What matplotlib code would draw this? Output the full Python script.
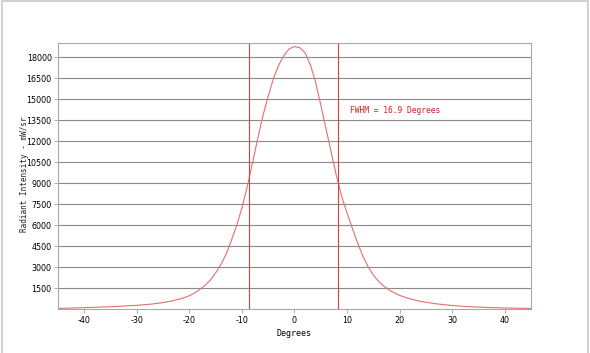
import matplotlib.pyplot as plt
from matplotlib.patches import Rectangle

plt.rcParams['axes.unicode_minus'] = False

# beam profile
angles = [-45, -40, -36, -33, -30, -27, -25, -24, -23, -22, -21, -20, -19, -18, -17, -16,
          -15, -14, -13, -12, -11, -10, -9, -8, -7, -6, -5, -4, -3, -2, -1, 0,
          1, 2, 3, 4, 5, 6, 7, 8, 9, 10, 11, 12, 13, 14, 15, 16,
          17, 18, 19, 20, 21, 22, 23, 24, 25, 27, 30, 33, 36, 40, 45]
intensity = [60, 115, 170, 220, 285, 380, 480, 550, 630, 720, 830, 970, 1170, 1420, 1720, 2100,
             2600, 3200, 3950, 4930, 6000, 7250, 8750, 10450, 12200, 13850, 15230, 16500, 17450, 18150, 18620, 18780,
             18700, 18350, 17500, 16250, 14600, 12900, 11200, 9500, 8050, 6880, 5790, 4750, 3800, 3050, 2450, 2000,
             1650, 1380, 1170, 1000, 860, 750, 650, 570, 500, 390, 270, 190, 140, 95, 60]
fwhm_left = -8.6
fwhm_right = 8.3
fwhm_text = 'FWHM = 16.9 Degrees'
yticks = [1500, 3000, 4500, 6000, 7500, 9000, 10500, 12000, 13500, 15000, 16500, 18000]
xticks = [-40, -30, -20, -10, 0, 10, 20, 30, 40]

fig = plt.figure(figsize=(5.9, 3.53), dpi=100)
fig.patches.append(Rectangle((0.0034, -0.01), 0.9932, 1.007, transform=fig.transFigure,
                             fill=False, edgecolor='#c8c8c8', linewidth=1.2))
ax = fig.add_axes([0.0983, 0.1238, 0.8017, 0.753])

ax.plot(angles, intensity, color='#e07070', linewidth=0.8)
ax.axvline(fwhm_left, color='#d84040', linewidth=0.8)
ax.axvline(fwhm_right, color='#d84040', linewidth=0.8)
ax.text(10.6, 14236, fwhm_text, color='#cc2020', fontsize=5.7, family='DejaVu Sans Mono',
        va='center', ha='left')

ax.set_xlim(-45, 45)
ax.set_ylim(0, 19000)
ax.set_xticks(xticks)
ax.set_yticks(yticks)
ax.yaxis.grid(True, color='#8a8a8a', linewidth=0.8)
ax.set_axisbelow(True)
ax.tick_params(labelsize=5.8, length=3, width=0.6, color='#a0a0a0', pad=1.5)
for s in ax.spines.values():
    s.set_color('#a8a8a8')
    s.set_linewidth(0.8)
ax.set_xlabel('Degrees', fontsize=6, family='DejaVu Sans Mono')
ax.set_ylabel('Radiant Intensity - mW/sr', fontsize=5.5, family='DejaVu Sans Mono',
              color='#222222')
ax.xaxis.set_label_coords(0.5, -0.075)
ax.yaxis.set_label_coords(-0.061, 0.51)

fig.savefig('out.png', dpi=100)
